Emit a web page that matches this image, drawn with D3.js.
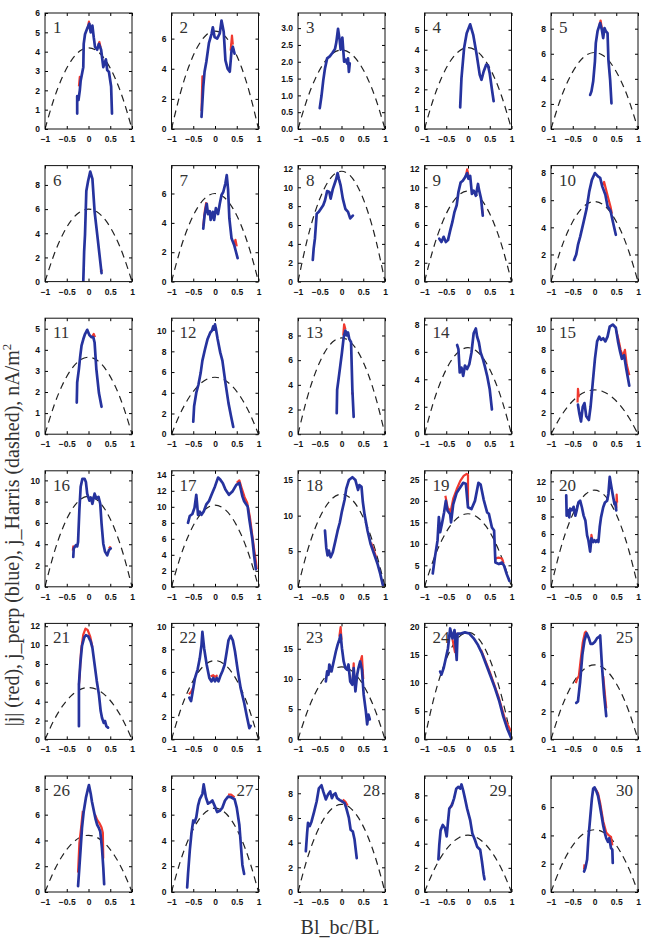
<!DOCTYPE html>
<html>
<head>
<meta charset="utf-8">
<script src="https://cdn.jsdelivr.net/npm/d3@7/dist/d3.min.js"></script>
<style>
  body { margin: 0; background: #fff; }
  .tick text { font-family: "Liberation Sans", Arial, sans-serif; font-size: 8.5px; font-weight: bold; fill: #111; }
  .tick line { stroke: #000; }
  .num { font-family: "Liberation Serif", "Times New Roman", serif; font-size: 17px; fill: #333; }
  .title { font-family: "Liberation Serif", "Times New Roman", serif; font-size: 20px; fill: #333; }
</style>
</head>
<body>
<div id="chart"></div>
<script>
// y axis extent of each panel
const yMax = [6, 7.7, 3.45, 5.85, 9.25, 9.6, 7.9, 12.3, 12.3, 8.55,
  5.5, 11.2, 9.4, 8.45, 11.0, 10.9, 14.5, 16.3, 27, 13.2,
  12.3, 10.3, 19.2, 20.6, 8.25, 9.0, 9.0, 9.4, 9.6, 8.2];

const yTicks = [
  [0, 1, 2, 3, 4, 5, 6], [0, 2, 4, 6], [0, 0.5, 1, 1.5, 2, 2.5, 3], [0, 1, 2, 3, 4, 5], [0, 2, 4, 6, 8],
  [0, 2, 4, 6, 8], [0, 2, 4, 6], [0, 2, 4, 6, 8, 10, 12], [0, 2, 4, 6, 8, 10, 12], [0, 2, 4, 6, 8],
  [0, 1, 2, 3, 4, 5], [0, 2, 4, 6, 8, 10], [0, 2, 4, 6, 8], [0, 2, 4, 6, 8], [0, 2, 4, 6, 8, 10],
  [0, 2, 4, 6, 8, 10], [0, 2, 4, 6, 8, 10, 12, 14], [0, 5, 10, 15], [0, 5, 10, 15, 20, 25], [0, 2, 4, 6, 8, 10, 12],
  [0, 2, 4, 6, 8, 10, 12], [0, 2, 4, 6, 8, 10], [0, 5, 10, 15], [0, 5, 10, 15, 20], [0, 2, 4, 6, 8],
  [0, 2, 4, 6, 8], [0, 2, 4, 6, 8], [0, 2, 4, 6, 8], [0, 2, 4, 6, 8], [0, 2, 4, 6]
];

const xTicks = [-1, -0.5, 0, 0.5, 1];

// peak of the Harris profile (dashed) in each panel
const harrisPeak = [4.2, 6.5, 2.35, 4.1, 6.1, 6.0, 6.0, 11.7, 9.6, 5.9,
  3.65, 5.5, 7.8, 6.3, 4.2, 8.5, 10.2, 13.0, 17.0, 11.0,
  5.5, 7.0, 12.0, 19.0, 5.3, 4.4, 6.5, 7.1, 4.7, 4.4];

// normalised Harris profile, Bl_bc/BL vs j/j0
const harrisX = [-1, -0.8, -0.6, -0.4, -0.2, 0, 0.2, 0.4, 0.6, 0.8, 1];
const harrisY = [0, 0.36, 0.64, 0.84, 0.96, 1, 0.96, 0.84, 0.64, 0.36, 0];

// j_perp (blue) traces, [Bl_bc/BL, j]
const jPerp = [
  [[-0.26,0.8],[-0.26,1.7],[-0.23,1.5],[-0.2,2.0],[-0.18,2.5],[-0.12,3.2],[-0.11,4.4],[-0.08,4.9],[-0.03,5.2],[0.02,5.45],[0.05,5.0],[0.09,5.35],[0.12,4.75],[0.15,4.25],[0.2,4.1],[0.24,4.4],[0.29,4.1],[0.34,3.2],[0.4,3.6],[0.43,3.05],[0.47,2.95],[0.52,2.2],[0.54,0.8]],
  [[-0.31,0.8],[-0.27,2.8],[-0.24,3.8],[-0.2,4.45],[-0.14,5.7],[-0.08,6.3],[-0.05,6.75],[-0.01,6.1],[0.05,6.0],[0.11,6.35],[0.15,7.2],[0.2,6.45],[0.24,4.55],[0.29,4.0],[0.34,3.8],[0.38,5.2],[0.41,5.45],[0.45,5.0]],
  [[-0.5,0.62],[-0.46,0.98],[-0.42,1.44],[-0.38,1.8],[-0.33,2.1],[-0.27,2.16],[-0.21,2.26],[-0.15,2.38],[-0.12,2.57],[-0.08,2.98],[-0.04,2.62],[-0.02,2.36],[0.02,2.72],[0.04,2.36],[0.06,2.0],[0.1,2.06],[0.13,1.95],[0.15,2.1],[0.17,1.7],[0.19,1.95]],
  [[-0.18,1.09],[-0.15,2.57],[-0.09,4.08],[-0.03,4.83],[0.05,5.28],[0.12,4.75],[0.2,3.74],[0.27,2.73],[0.31,2.48],[0.36,2.9],[0.42,3.25],[0.46,3.2],[0.5,2.8],[0.55,2.0],[0.59,1.4]],
  [[-0.1,2.72],[-0.07,3.0],[-0.03,3.8],[0.01,5.4],[0.03,6.85],[0.07,7.8],[0.13,8.45],[0.17,7.9],[0.2,7.25],[0.23,8.05],[0.26,7.8],[0.3,7.65],[0.32,5.5],[0.36,3.9],[0.39,2.05]],
  [[-0.12,0],[-0.1,2.5],[-0.08,3.9],[-0.05,7.5],[-0.01,8.3],[0.04,9.1],[0.09,8.5],[0.14,5.8],[0.21,3.6],[0.3,0.7]],
  [[-0.27,3.6],[-0.24,4.5],[-0.19,5.3],[-0.16,4.6],[-0.12,4.8],[-0.1,4.2],[-0.05,4.75],[-0.02,4.2],[0.02,5.0],[0.07,4.6],[0.11,5.3],[0.15,5.9],[0.19,6.1],[0.24,6.7],[0.27,7.25],[0.3,6.3],[0.33,4.3],[0.38,2.95],[0.44,2.5],[0.48,2.05],[0.52,1.6]],
  [[-0.66,2.3],[-0.64,3.5],[-0.61,4.6],[-0.57,7.2],[-0.52,7.4],[-0.42,8.1],[-0.38,8.6],[-0.33,9.6],[-0.28,9.5],[-0.25,8.8],[-0.2,9.8],[-0.16,10.35],[-0.12,10.9],[-0.09,11.5],[-0.06,10.9],[-0.02,10.2],[0.03,8.8],[0.09,7.7],[0.15,7.4],[0.2,6.7],[0.26,7.0]],
  [[-0.66,4.55],[-0.61,4.2],[-0.56,4.75],[-0.51,4.2],[-0.46,4.4],[-0.41,5.4],[-0.36,6.3],[-0.31,7.4],[-0.26,8.1],[-0.22,9.5],[-0.17,10.5],[-0.12,10.7],[-0.07,11.05],[-0.02,11.5],[0.01,10.9],[0.05,11.2],[0.09,9.3],[0.13,9.65],[0.18,9.1],[0.23,10.35],[0.25,9.8],[0.3,8.8],[0.34,7.0]],
  [[-0.47,1.6],[-0.42,2.0],[-0.38,2.7],[-0.33,3.3],[-0.25,4.4],[-0.18,5.4],[-0.12,6.65],[-0.06,7.5],[0.01,8.0],[0.08,7.75],[0.13,7.65],[0.18,7.0],[0.25,6.4],[0.3,5.55],[0.37,5.2],[0.42,4.45],[0.49,3.45]],
  [[-0.27,1.5],[-0.26,2.45],[-0.22,3.1],[-0.19,3.7],[-0.16,4.2],[-0.12,4.5],[-0.08,4.75],[-0.03,4.95],[0.02,4.7],[0.07,4.6],[0.11,4.6],[0.14,4.35],[0.18,3.1],[0.24,1.95],[0.3,1.3]],
  [[-0.5,1.2],[-0.48,2.7],[-0.43,4.0],[-0.38,4.8],[-0.33,5.9],[-0.29,7.1],[-0.23,8.2],[-0.17,9.2],[-0.11,9.8],[-0.07,10.0],[-0.04,10.4],[-0.02,10.1],[0.0,10.6],[0.02,10.2],[0.06,9.2],[0.12,7.9],[0.17,7.1],[0.24,4.95],[0.31,3.0],[0.37,1.7],[0.42,0.7]],
  [[-0.11,1.7],[-0.1,3.6],[-0.07,4.4],[-0.03,5.5],[0.01,6.6],[0.05,7.85],[0.09,8.4],[0.12,8.0],[0.15,8.25],[0.18,7.7],[0.22,7.45],[0.25,3.6],[0.28,1.4]],
  [[-0.25,6.5],[-0.22,6.2],[-0.19,4.5],[-0.15,4.85],[-0.11,4.25],[-0.07,5.0],[-0.02,4.75],[0.03,5.1],[0.08,5.95],[0.13,7.35],[0.18,7.7],[0.21,7.1],[0.25,6.7],[0.29,5.95],[0.34,5.5],[0.39,4.9],[0.44,4.25],[0.5,3.25],[0.55,1.8]],
  [[-0.38,2.8],[-0.35,2.0],[-0.31,1.2],[-0.27,2.6],[-0.23,2.95],[-0.19,1.7],[-0.13,1.35],[-0.09,2.6],[-0.04,4.9],[0.01,7.15],[0.06,8.8],[0.11,9.25],[0.15,8.95],[0.2,9.1],[0.25,8.8],[0.3,9.25],[0.35,10.2],[0.42,10.4],[0.49,10.1],[0.54,8.8],[0.59,7.8],[0.63,7.15],[0.68,7.5],[0.73,6.2],[0.8,4.6]],
  [[-0.35,2.8],[-0.34,3.6],[-0.29,3.9],[-0.26,3.8],[-0.24,4.2],[-0.21,7.2],[-0.18,9.4],[-0.14,10.15],[-0.09,10.15],[-0.06,9.85],[-0.03,8.75],[0.02,8.1],[0.05,8.4],[0.09,7.8],[0.14,8.75],[0.18,8.3],[0.23,8.45],[0.27,7.8],[0.3,5.95],[0.34,4.05],[0.38,3.3],[0.43,2.95],[0.47,3.45],[0.51,3.6]],
  [[-0.62,8.0],[-0.58,8.85],[-0.52,9.1],[-0.47,9.9],[-0.43,11.5],[-0.39,9.0],[-0.35,9.4],[-0.31,9.0],[-0.26,9.4],[-0.2,10.3],[-0.14,10.7],[-0.08,11.5],[0.0,12.55],[0.07,13.65],[0.12,13.4],[0.18,12.95],[0.24,12.15],[0.32,11.5],[0.4,11.9],[0.49,12.75],[0.56,13.0],[0.63,11.3],[0.67,10.7],[0.75,10.05],[0.79,8.4],[0.86,5.9],[0.9,3.85],[0.94,2.2]],
  [[-0.38,7.9],[-0.35,5.5],[-0.32,4.4],[-0.29,5.1],[-0.25,4.15],[-0.2,4.85],[-0.14,6.45],[-0.09,7.85],[-0.04,9.0],[0.01,10.6],[0.07,12.2],[0.11,13.8],[0.17,15.0],[0.25,15.4],[0.32,15.0],[0.38,13.6],[0.41,14.3],[0.46,14.05],[0.49,11.95],[0.53,10.15],[0.6,7.85],[0.67,6.0],[0.75,4.6],[0.83,3.2],[0.89,1.85],[0.95,0.25]],
  [[-0.81,3.1],[-0.76,6.9],[-0.7,10.8],[-0.67,16.2],[-0.64,12.7],[-0.6,14.6],[-0.55,17.3],[-0.51,20.0],[-0.47,17.7],[-0.41,16.9],[-0.39,15.0],[-0.34,19.2],[-0.26,21.9],[-0.18,23.1],[-0.11,24.2],[-0.05,24.0],[0.0,18.5],[0.08,18.1],[0.16,20.0],[0.24,24.2],[0.29,23.8],[0.36,20.3],[0.44,17.3],[0.48,17.0],[0.55,13.8],[0.6,13.1],[0.63,5.65],[0.71,5.3],[0.78,5.65],[0.83,4.9],[0.89,2.95],[0.95,1.4]],
  [[-0.65,10.4],[-0.64,8.1],[-0.61,8.7],[-0.58,7.9],[-0.56,8.9],[-0.52,8.7],[-0.48,9.1],[-0.44,8.1],[-0.41,8.7],[-0.37,9.6],[-0.33,9.8],[-0.29,9.05],[-0.25,8.1],[-0.21,7.55],[-0.17,5.85],[-0.14,5.3],[-0.1,4.0],[-0.07,5.5],[-0.03,5.1],[0.0,5.3],[0.03,5.1],[0.06,5.3],[0.09,5.1],[0.12,6.8],[0.15,7.9],[0.2,9.05],[0.24,9.6],[0.29,9.8],[0.32,10.6],[0.35,12.5],[0.39,11.3],[0.43,10.2],[0.46,9.4],[0.48,9.6],[0.5,8.7]],
  [[-0.22,1.4],[-0.22,5.8],[-0.19,7.95],[-0.15,9.9],[-0.1,10.8],[-0.06,11.05],[-0.01,10.95],[0.05,10.4],[0.09,9.7],[0.14,7.95],[0.19,6.2],[0.24,4.75],[0.28,3.0],[0.31,2.3],[0.35,1.75],[0.38,1.95],[0.41,1.4],[0.45,1.25]],
  [[-0.59,3.7],[-0.55,3.4],[-0.5,4.55],[-0.46,5.45],[-0.4,6.2],[-0.35,7.2],[-0.31,8.4],[-0.29,9.55],[-0.25,8.1],[-0.19,6.6],[-0.13,5.45],[-0.08,5.15],[-0.04,5.45],[0.0,5.15],[0.04,5.45],[0.08,5.15],[0.12,5.6],[0.17,6.05],[0.22,6.6],[0.27,7.8],[0.31,8.8],[0.36,9.2],[0.41,8.8],[0.46,7.8],[0.52,6.2],[0.59,4.55],[0.67,3.25],[0.74,1.9],[0.79,1.0],[0.82,1.2]],
  [[-0.36,9.6],[-0.33,11.25],[-0.3,10.7],[-0.28,12.4],[-0.23,11.25],[-0.18,12.9],[-0.13,14.55],[-0.09,15.65],[-0.05,16.5],[-0.02,17.3],[0.01,15.1],[0.05,12.9],[0.09,11.8],[0.13,11.5],[0.16,12.4],[0.2,9.6],[0.25,9.05],[0.28,11.8],[0.32,7.95],[0.36,10.7],[0.39,11.8],[0.43,12.9],[0.47,11.5],[0.51,7.4],[0.56,4.65],[0.59,2.5],[0.62,4.1],[0.65,3.3]],
  [[-0.64,12.05],[-0.61,11.5],[-0.56,12.65],[-0.51,14.4],[-0.46,16.2],[-0.41,19.7],[-0.36,17.95],[-0.31,19.4],[-0.26,14.1],[-0.24,18.8],[-0.17,18.8],[-0.07,19.0],[0.03,18.8],[0.13,17.95],[0.23,16.75],[0.32,15.3],[0.42,13.25],[0.52,11.2],[0.62,9.1],[0.72,6.75],[0.81,4.1],[0.91,1.75],[0.99,0.3]],
  [[-0.42,2.6],[-0.38,2.7],[-0.33,4.1],[-0.28,6.0],[-0.23,7.05],[-0.18,7.55],[-0.13,7.2],[-0.09,6.8],[-0.04,6.8],[0.01,6.95],[0.06,7.2],[0.11,7.3],[0.13,7.4],[0.17,5.3],[0.22,3.2],[0.27,1.65]],
  [[-0.24,0.45],[-0.21,1.9],[-0.18,3.4],[-0.15,4.95],[-0.11,6.25],[-0.06,7.3],[-0.02,7.9],[0.01,8.3],[0.05,7.65],[0.08,7.0],[0.12,6.35],[0.16,5.7],[0.2,5.2],[0.24,4.95],[0.27,4.7],[0.31,3.4],[0.34,1.9],[0.36,0.6]],
  [[-0.64,0.35],[-0.62,1.4],[-0.58,3.2],[-0.54,4.6],[-0.5,5.55],[-0.47,5.4],[-0.43,5.8],[-0.39,6.7],[-0.35,7.2],[-0.29,7.6],[-0.26,8.35],[-0.21,7.35],[-0.16,6.85],[-0.11,6.95],[-0.06,7.1],[-0.01,6.7],[0.05,6.2],[0.11,6.3],[0.17,6.55],[0.23,7.1],[0.3,7.4],[0.37,7.35],[0.45,7.2],[0.5,6.55],[0.56,5.2],[0.6,3.4],[0.63,2.1],[0.67,1.4]],
  [[-0.82,3.3],[-0.79,4.8],[-0.77,5.6],[-0.73,5.35],[-0.69,5.7],[-0.63,6.5],[-0.57,7.35],[-0.52,8.4],[-0.46,8.65],[-0.42,8.15],[-0.36,7.5],[-0.31,7.9],[-0.26,8.15],[-0.22,7.6],[-0.18,7.9],[-0.14,8.0],[-0.1,7.6],[-0.04,7.45],[0.01,7.35],[0.07,7.2],[0.11,6.8],[0.17,6.0],[0.21,5.05],[0.26,4.9],[0.3,4.25],[0.35,2.75]],
  [[-0.68,2.7],[-0.66,3.9],[-0.63,5.1],[-0.58,5.55],[-0.53,5.3],[-0.49,4.6],[-0.46,5.8],[-0.43,6.9],[-0.37,7.2],[-0.32,7.75],[-0.27,8.55],[-0.22,8.7],[-0.18,8.55],[-0.15,8.9],[-0.11,8.4],[-0.07,7.75],[-0.02,6.9],[0.05,5.95],[0.1,4.85],[0.16,4.3],[0.21,3.75],[0.28,3.5],[0.32,2.55],[0.36,1.45],[0.38,1.05]],
  [[-0.24,1.45],[-0.21,1.7],[-0.17,2.3],[-0.14,3.8],[-0.1,5.2],[-0.06,6.6],[-0.03,7.3],[0.0,7.4],[0.04,7.15],[0.08,6.8],[0.12,6.15],[0.16,5.45],[0.2,4.7],[0.24,4.15],[0.27,3.8],[0.31,3.55],[0.34,3.8],[0.38,3.1],[0.41,3.0],[0.42,2.05]]
];

// |j| (red): only the stretches where it stands clear of j_perp
const jTotal = [
  [[[-0.22,2.2],[-0.2,2.7],[-0.18,2.6]], [[-0.02,5.2],[0.01,5.55],[0.04,5.1]], [[0.22,4.3],[0.25,4.5],[0.28,4.2]]],
  [[[-0.31,1.2],[-0.29,3.5],[-0.27,3.2]], [[0.36,5.2],[0.39,6.2],[0.41,5.6]]],
  [],
  [],
  [[[0.11,8.2],[0.14,8.65],[0.17,8.0]]],
  [[[0.28,0.8],[0.31,1.0]]],
  [[[-0.27,3.8],[-0.23,4.9],[-0.2,5.4]], [[0.44,2.5],[0.47,2.85],[0.5,2.4]]],
  [[[-0.05,10.6],[-0.02,10.5]]],
  [[[-0.04,11.4],[-0.02,11.9],[0.01,11.3]], [[0.32,7.8],[0.34,7.2]]],
  [[[0.18,7.1],[0.22,7.35],[0.28,6.6],[0.32,6.1],[0.37,5.5],[0.4,5.0]]],
  [[[0.09,4.65],[0.12,4.75],[0.15,4.6]]],
  [],
  [[[0.04,8.0],[0.06,8.9],[0.09,8.5]], [[0.24,3.4],[0.26,3.2]]],
  [],
  [[[-0.39,3.0],[-0.38,4.3],[-0.36,3.5]], [[0.5,9.8],[0.55,9.0],[0.6,8.0],[0.65,7.4],[0.7,8.0],[0.74,6.6],[0.8,5.6]]],
  [[[-0.36,3.4],[-0.35,3.8],[-0.33,3.7]], [[0.47,3.6],[0.51,3.8]]],
  [[[0.5,13.0],[0.56,13.3],[0.62,12.2],[0.68,11.2],[0.74,10.5],[0.8,8.8],[0.86,6.3],[0.91,4.3],[0.94,3.2],[0.96,2.2]]],
  [[[0.68,6.2],[0.75,5.0],[0.8,4.1]]],
  [[[-0.52,21.2],[-0.47,18.5],[-0.4,17.5],[-0.34,20.5],[-0.26,22.7],[-0.18,24.6],[-0.1,25.8],[-0.03,26.3],[0.0,26.0],[0.0,19.0]], [[0.62,6.5],[0.7,6.8],[0.78,6.6],[0.82,5.4]]],
  [[[-0.08,5.2],[-0.07,5.9],[-0.05,5.4]], [[0.46,9.5],[0.5,9.0],[0.51,10.5],[0.52,9.6]]],
  [[[-0.22,5.8],[-0.2,7.0],[-0.17,9.5],[-0.12,11.1],[-0.07,11.75],[-0.02,11.6],[0.04,10.9],[0.09,9.8]]],
  [[[-0.6,4.0],[-0.55,4.2],[-0.5,4.6]], [[-0.1,5.6],[-0.04,5.7],[0.0,5.55],[0.06,5.7]]],
  [[[-0.05,17.0],[-0.02,18.6],[0.0,16.5]], [[0.26,10.0],[0.28,12.6],[0.3,9.0]], [[0.44,13.0],[0.47,13.8],[0.5,10.0]]],
  [[[-0.36,17.9],[-0.3,15.5],[-0.25,18.9]], [[0.3,15.9],[0.5,12.0],[0.7,7.6],[0.85,3.6],[0.97,1.7],[1.0,1.5]]],
  [[[-0.43,4.0],[-0.4,4.3],[-0.36,4.5],[-0.32,5.6],[-0.27,6.9],[-0.22,7.6],[-0.18,7.7]], [[0.2,4.5],[0.27,2.2]]],
  [[[-0.24,1.5],[-0.21,3.8],[-0.17,5.0],[-0.13,6.3]], [[0.15,6.0],[0.2,5.6],[0.25,5.35],[0.3,5.0],[0.33,4.6],[0.34,2.6]]],
  [[[0.3,7.55],[0.37,7.55],[0.45,7.35]]],
  [[[0.03,7.5],[0.09,7.3],[0.14,7.0]]],
  [[[-0.39,7.0],[-0.37,7.3],[-0.34,7.4]]],
  [[[-0.24,1.6],[-0.23,1.95]], [[0.02,7.3],[0.08,7.0],[0.13,6.3],[0.2,5.0],[0.27,4.2],[0.33,4.0],[0.38,3.9],[0.41,3.3]]]
];

const labelRight = [25, 27, 28, 29, 30];

const width = 646, height = 945;
const pw = 87, ph = 116;
const colX = d3.range(5).map(c => 45 + c * 126.5);
const rowY = d3.range(6).map(r => 13 + r * 152.6);

const svg = d3.select("#chart").append("svg")
  .attr("width", width)
  .attr("height", height);

const x = d3.scaleLinear().domain([-1, 1]).range([0, pw]);

const blue = "#26339e", red = "#f0392f";
const minus = d => String(d).replace("-", "\u2212");

jPerp.forEach((trace, i) => {
  const id = i + 1;
  const g = svg.append("g")
    .attr("transform", `translate(${colX[i % 5]},${rowY[Math.floor(i / 5)]})`);

  const y = d3.scaleLinear().domain([0, yMax[i]]).range([ph, 0]);

  g.append("clipPath").attr("id", "clip" + id)
    .append("rect").attr("width", pw).attr("height", ph);

  const plot = g.append("g").attr("clip-path", `url(#clip${id})`);

  // dashed Harris profile
  const harris = harrisX.map((hx, k) => [hx, harrisY[k] * harrisPeak[i]]);
  plot.append("path")
    .attr("d", d3.line().x(d => x(d[0])).y(d => y(d[1])).curve(d3.curveNatural)(harris))
    .attr("fill", "none")
    .attr("stroke", "#222")
    .attr("stroke-width", 1.2)
    .attr("stroke-dasharray", "7,5");

  const line = d3.line().x(d => x(d[0])).y(d => y(d[1]));

  jTotal[i].forEach(seg => {
    plot.append("path")
      .attr("d", line(seg))
      .attr("fill", "none")
      .attr("stroke", red)
      .attr("stroke-width", 2.2)
      .attr("stroke-linejoin", "round");
  });

  plot.append("path")
    .attr("d", line(trace))
    .attr("fill", "none")
    .attr("stroke", blue)
    .attr("stroke-width", 2.7)
    .attr("stroke-linejoin", "round")
    .attr("stroke-linecap", "round");

  // axes, ticks inward on all four sides
  const fmtY = i === 2 ? d3.format(".1f") : d => String(d);
  g.append("g").attr("transform", `translate(0,${ph})`)
    .call(d3.axisBottom(x).tickValues(xTicks).tickSize(-3).tickPadding(7).tickFormat(minus))
    .call(a => a.select(".domain").remove());
  g.append("g")
    .call(d3.axisTop(x).tickValues(xTicks).tickSize(-3).tickFormat(""))
    .call(a => a.select(".domain").remove());
  g.append("g")
    .call(d3.axisLeft(y).tickValues(yTicks[i]).tickSize(-3).tickPadding(5).tickFormat(fmtY))
    .call(a => a.select(".domain").remove());
  g.append("g").attr("transform", `translate(${pw},0)`)
    .call(d3.axisRight(y).tickValues(yTicks[i]).tickSize(-3).tickFormat(""))
    .call(a => a.select(".domain").remove());

  g.append("rect")
    .attr("width", pw).attr("height", ph)
    .attr("fill", "none").attr("stroke", "#111").attr("stroke-width", 1);

  const right = labelRight.includes(id);
  g.append("text")
    .attr("class", "num")
    .attr("x", right ? pw - 5 : 8)
    .attr("y", 20)
    .attr("text-anchor", right ? "end" : "start")
    .text(id);
});

// axis titles
svg.append("text")
  .attr("class", "title")
  .attr("transform", "translate(19,535) rotate(-90)")
  .attr("text-anchor", "middle")
  .text("|j| (red), j_perp (blue), j_Harris (dashed), nA/m")
  .append("tspan")
  .attr("dy", -8)
  .attr("font-size", 13)
  .text("2");

svg.append("text")
  .attr("class", "title")
  .attr("x", 340)
  .attr("y", 934)
  .attr("text-anchor", "middle")
  .text("Bl_bc/BL");
</script>
</body>
</html>
